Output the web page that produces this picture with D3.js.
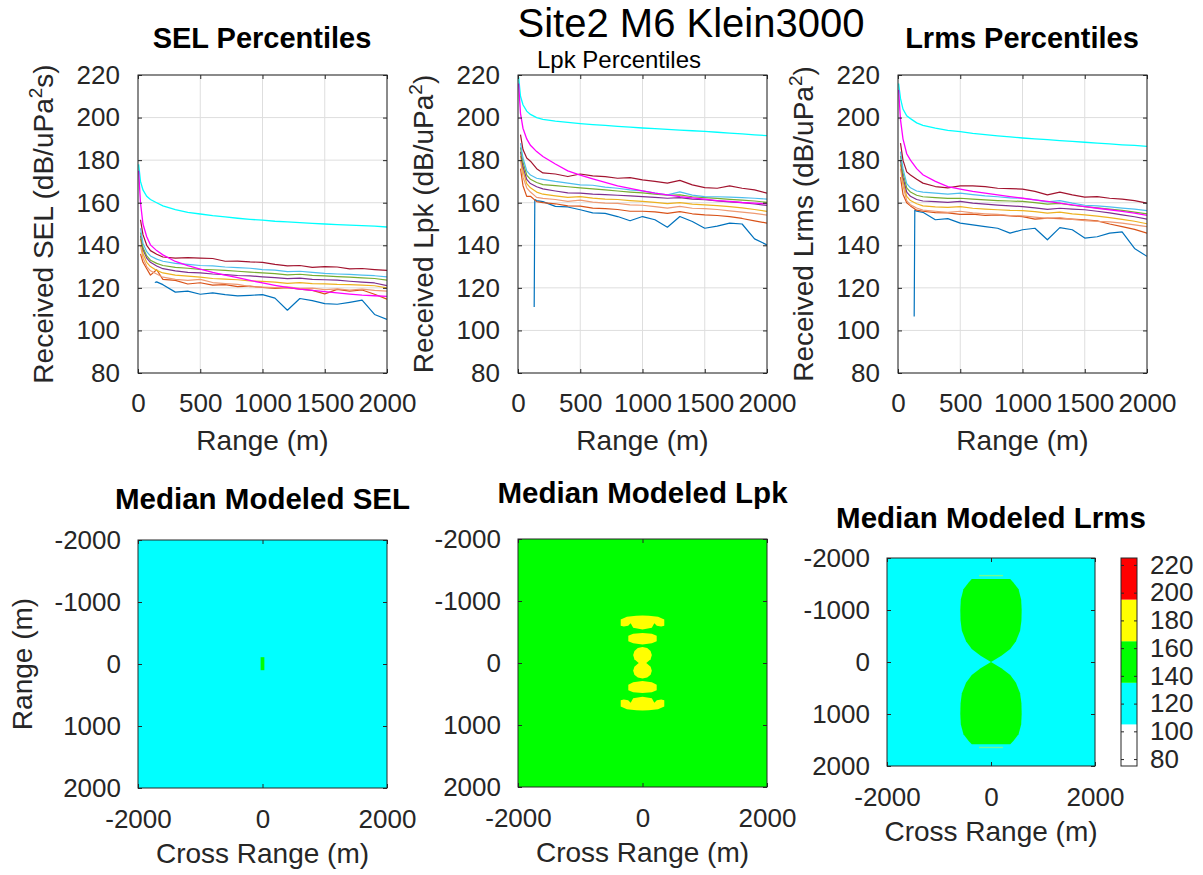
<!DOCTYPE html>
<html><head><meta charset="utf-8">
<script src="https://cdn.jsdelivr.net/npm/d3@7"></script>
<style>
body{margin:0;background:#fff;}
svg{display:block;font-family:"Liberation Sans",Arial,Helvetica,sans-serif;}
</style></head>
<body><svg id="c" width="1203" height="875"></svg>
<script>
// ---------------- DATA ----------------
const ranges = [5,20,40,70,100,130,135,150,200,300,400,500,600,700,800,900,1000,1100,1200,1300,1400,1500,1600,1700,1800,1900,2000];
const n = null;
const xTicksTop = [0,500,1000,1500,2000];
const yTicksTop = [80,100,120,140,160,180,200,220];
const mapTicksY = [-2000,-1000,0,1000,2000];
const mapTicksX = [-2000,0,2000];
const cbTicks = [80,100,120,140,160,180,200,220];
const cbEdges = [75,105,135,165,195,225];
const cbColors = ['#ffffff','#00ffff','#00ff00','#ffff00','#ff0000'];
const pctNames = ['blue','orange','salmon','yellow','purple','green','lightblue','darkred'];
const pctColors = ['#0072BD','#D95319','#EE9A72','#EDB120','#7E2F8E','#77AC30','#4DBEEE','#A2142F'];

// SEL percentiles
const selCyan    = [178,170,166,163,161.5,n,n,160,158.5,156.8,155.5,154.7,153.9,153.3,152.7,152.2,151.8,151.3,151,150.6,150.3,150,149.7,149.5,149.2,149,148.6];
const selMagenta = [175,160,150,144,140.2,n,n,137.5,135.5,132.4,130.4,128.8,127.3,126,124.8,123.5,122.3,121.2,120.2,119.4,118.8,118.2,117.6,117.1,116.6,116.3,116];
const selDarkRed = [n,152,145,140,137.5,n,n,135.8,134.5,134,134.2,134,133.8,132.5,132.6,132.2,132,131,130.3,130.5,129.6,130,129.8,128.9,129.1,128.6,128.2];
const selLightBlue=[n,148,141,137,135,n,n,133.5,132.5,131.5,131,130.5,130.3,129.8,129.5,129.2,128.6,128.3,127.6,127.8,127.3,126.8,126.5,126.3,126,125.7,125.2];
const selGreen   = [n,146,139,135,133,n,n,131.5,130.5,129.6,129.2,128.7,128.5,128.2,127.8,127.4,127,126.7,126.1,126.4,125.9,125.6,125.3,125,124.7,124.4,123.6];
const selPurple  = [n,144.5,138,134,132,n,n,130.3,129,128,127.3,127,126.5,126.2,125.8,125.6,125.2,124.8,124.3,124.6,124,123.8,123.6,123.1,122.7,122.3,121];
const selYellow  = [n,143,136,132,130,n,n,128.2,127,126,125.5,125,124.4,124.1,123.8,123.3,123,122.7,122.1,122.5,122,121.9,121.6,121.5,121.3,121,120];
const selSalmon  = [n,140,134,130,128,n,n,126.5,125,124,123.5,124,122.5,122,121.6,120.6,120.3,120.1,120.5,119.8,119.9,119.2,119.5,119,119.4,118.8,118.5];
const selOrange  = [n,136,132,129,126,n,n,128.5,124,123.5,121.8,122.4,121.3,121.5,120.6,120.8,120.2,119.8,120.1,119.4,118.8,117.2,119.3,118.5,119,117,114.7];
const selBlue    = [n,n,n,n,n,n,122.5,122.8,121.5,118,118.5,117,117.6,116.8,116.2,116.5,116.8,115.2,109.5,115,114,112.6,112.3,113.2,114.2,107.5,105.2];

// Lpk percentiles
const lpkCyan    = [219,210,206,203,201.5,n,n,200,199.2,198.3,197.7,197.2,196.7,196.3,195.9,195.5,195.1,194.8,194.5,194.1,193.8,193.5,193.1,192.7,192.3,191.9,191.5];
const lpkMagenta = [216,202,195,190,187,n,n,184,181.7,178.2,175,173,171.2,169.5,167.9,166.7,165.6,164.5,163.7,162.9,162.3,161.7,161,160.6,160.1,159.8,159.5];
const lpkDarkRed = [n,192,185,181,179.5,n,n,176,174,173.5,172.3,173.5,172.6,172.3,171.5,171.8,170.7,170,169.2,170.5,168.4,167.1,166.8,167.9,166.8,166,164.5];
const lpkLightBlue=[n,188,181,175,173,n,n,171.5,171,170,169.2,168.4,168.2,167.3,166.8,166,165.6,164.5,163.7,165.1,163.6,162.9,162.8,162.6,162.4,162.1,161.7];
const lpkGreen   = [n,186,179,173,171,n,n,169.5,168.5,168,167.5,167,166.5,166,165.5,165,164.6,164,163.5,163.7,162.8,162.4,162,161.6,161.2,160.8,160.2];
const lpkPurple  = [n,184,177,171,169,n,n,167.5,166.5,165.5,164.6,164.5,164,163.8,163.5,163.2,162.9,162.5,162.1,162.4,161.7,161.4,160.9,160.4,160,159.4,158.7];
const lpkYellow  = [n,182,175,169,167,n,n,165,164,163.2,162.5,162.9,162.2,161.7,161.5,161,160.6,160.2,159.6,160,159.3,159,158.6,158.2,157.6,156.8,155.9];
const lpkSalmon  = [n,180,172,167,165,n,n,162.5,162,161.5,160.6,161.2,160.3,159.8,159.7,159,158.8,158.2,157.5,158.3,157.4,157.2,156.8,156.2,155.6,155,154.2];
const lpkOrange  = [n,176,168,163,163,n,n,160.5,160,159.5,158.5,158.4,157.5,157.2,156.8,156,156,155.7,155,155.8,154.8,154.3,154,153.5,152.6,151.5,150.4];
const lpkBlue    = [n,n,n,n,n,111,161.5,161,160.5,158.3,158,156.7,155.2,155,153.5,151.5,153.5,152,148.5,153.5,151.2,148,149,150.4,150,143,140.2];

// Lrms percentiles
const lrmsCyan    = [216,209,204,200.8,199.5,n,n,197.5,196.3,195,194,193.4,192.6,192,191.4,190.9,190.4,190,189.6,189.2,188.8,188.4,188,187.6,187.2,186.9,186.5];
const lrmsMagenta = [213,199,190,183,180,n,n,176,173.1,170,167.6,166.4,165.3,164.5,163.7,162.9,162.1,161.3,160.6,159.8,159,158.2,157.4,156.7,155.9,155.1,154];
const lrmsDarkRed = [n,188,180,174.5,173,n,n,171,169.2,167.6,167,167.9,167.9,167.6,166.8,166.6,166.4,165.3,163.7,165,163.7,162.6,162.9,162.1,161.7,161,159.8];
const lrmsLightBlue=[n,184,176,169,167,n,n,165.5,165,164.5,164,164.5,163.8,163.2,162.8,162.3,162.1,161.3,160.4,161,159.8,158.8,158.5,158,157.5,157,156.3];
const lrmsGreen   = [n,182,174,167,165,n,n,163.5,162.8,162.4,162,162.1,161.7,161.3,161,160.8,160.6,160,159.3,159.7,158.8,158.2,157.6,157,156.4,155.6,154.8];
const lrmsPurple  = [n,180,172,165,163,n,n,161.5,160.8,160.5,160.2,160.6,159.8,159.3,158.9,158.5,158.2,157.6,156.9,157.4,157,156.7,156,155.2,154.3,153.4,152.3];
const lrmsYellow  = [n,178,170,163,161,n,n,159.5,158.5,158,157.8,158.2,157.4,157,156.7,156.4,156.3,155.8,155.1,155.6,154.8,154.3,153.7,153,152.2,151.3,150.1];
const lrmsSalmon  = [n,176,168,161,159,n,n,157.5,156.5,156,155.5,156,155.2,154.8,154.5,154,153.8,153.2,152.6,153,152.2,151.6,151.2,151,150.4,149.6,148.8];
const lrmsOrange  = [n,172,164,160,158.5,n,n,156.5,156,155.3,155.2,154.5,154.6,154,154.3,153.8,153.5,152.3,152.8,152.5,152.3,152,151.5,150,148.8,147.5,145.7];
const lrmsBlue    = [n,n,n,n,n,106.5,156.5,156,155.5,152,152.5,150.4,149.6,148.8,148,145.7,147.3,148,142.6,148.3,147.3,143.4,144,145.7,146.3,138.5,134.8];

// Modeled maps: background level and regions [crossRange, range] in m with level (dB)
const selMapBase = 125;
const selRegions = [
  {level:145, pts:[[-30,-110],[30,-110],[30,100],[-30,100]]}
];
const lpkMapBase = 150;
const lpkRegions = [
  {level:170, pts:[[-350,-700],[-250,-745],[-100,-763],[0,-765],[100,-763],[250,-745],[350,-700],[350,-600],[300,-588],[230,-600],[190,-640],[150,-570],[0,-540],[-150,-570],[-190,-640],[-230,-600],[-300,-588],[-350,-600]]},
  {level:170, pts:[[-228,-440],[-150,-472],[0,-485],[150,-472],[228,-440],[228,-350],[150,-318],[0,-300],[-150,-318],[-228,-350]]},
  {level:170, pts:[[0,-258],[75,-240],[130,-195],[150,-128],[130,-60],[80,-15],[60,0],[-60,0],[-80,-15],[-130,-60],[-150,-128],[-130,-195],[-75,-240]]},
  {level:170, pts:[[0,252],[75,235],[130,190],[150,126],[130,60],[80,15],[60,0],[-60,0],[-80,15],[-130,60],[-150,126],[-130,190],[-75,235]]},
  {level:170, pts:[[-228,350],[-150,310],[0,290],[150,310],[228,350],[228,440],[150,472],[0,483],[-150,472],[-228,440]]},
  {level:170, pts:[[-350,600],[-300,588],[-230,600],[-190,640],[-150,570],[0,545],[150,570],[190,640],[230,600],[300,588],[350,600],[350,700],[250,745],[100,763],[0,768],[-100,763],[-250,745],[-350,700]]}
];
const lrmsMapBase = 125;
const lrmsRegions = [
  {level:145, pts:[[-370,-1595],[370,-1595],[430,-1530],[530,-1400],[580,-1200],[590,-1000],[585,-800],[560,-600],[480,-400],[370,-250],[200,-120],[0,0],[-200,-120],[-370,-250],[-480,-400],[-560,-600],[-585,-800],[-590,-1000],[-580,-1200],[-530,-1400],[-430,-1530]]},
  {level:145, pts:[[-370,1580],[370,1580],[430,1520],[530,1390],[580,1200],[590,1000],[585,800],[560,600],[480,400],[370,250],[200,120],[0,0],[-200,120],[-370,250],[-480,400],[-560,600],[-585,800],[-590,1000],[-580,1200],[-530,1390],[-430,1520]]},
  {level:145, pts:[[-230,-1675],[230,-1675],[230,-1648],[-230,-1648]], light:true},
  {level:145, pts:[[-230,1630],[230,1630],[230,1657],[-230,1657]], light:true}
];

// ---------------- DRAW ----------------
const svg = d3.select('#c');
const AX = '#262626', GRID = '#dedede';
const color = d3.scaleThreshold().domain(cbEdges.slice(1,-1)).range(cbColors);
const fmt = d => String(d);

function styleAxis(sel, fs, showText){
  sel.select('.domain').remove();
  sel.selectAll('.tick line').attr('stroke', AX).attr('stroke-width', 1);
  sel.selectAll('.tick text').attr('fill', AX).style('font-size', fs+'px')
     .style('font-family','"Liberation Sans",Arial,sans-serif');
  if(!showText) sel.selectAll('.tick text').remove();
}

function text(x, y, str, opt){
  const t = svg.append('text').attr('x', x).attr('y', y).attr('text-anchor', opt.anchor||'middle')
    .attr('fill', opt.fill||'#000').style('font-size', opt.size+'px')
    .style('font-weight', opt.bold?'bold':'normal').text(str);
  return t;
}

function yLabel(x, yc, parts, size){
  const t = svg.append('text').attr('transform', `translate(${x},${yc}) rotate(-90)`)
    .attr('text-anchor','middle').attr('fill', AX).style('font-size', size+'px');
  t.append('tspan').text(parts[0]);
  if(parts.length > 1){
    t.append('tspan').attr('dy', -11).style('font-size', Math.round(size*0.68)+'px').text(parts[1]);
    t.append('tspan').attr('dy', 11).text(parts[2]);
  }
}

const topPanels = [
  {x0:138, x1:387, ylab:['Received SEL (dB/uPa','2','s)'],
   pct:[selBlue,selOrange,selSalmon,selYellow,selPurple,selGreen,selLightBlue,selDarkRed], cyan:selCyan, magenta:selMagenta},
  {x0:518, x1:767, ylab:['Received Lpk (dB/uPa','2',')'],
   pct:[lpkBlue,lpkOrange,lpkSalmon,lpkYellow,lpkPurple,lpkGreen,lpkLightBlue,lpkDarkRed], cyan:lpkCyan, magenta:lpkMagenta},
  {x0:898, x1:1147, ylab:['Received Lrms (dB/uPa','2',')'],
   pct:[lrmsBlue,lrmsOrange,lrmsSalmon,lrmsYellow,lrmsPurple,lrmsGreen,lrmsLightBlue,lrmsDarkRed], cyan:lrmsCyan, magenta:lrmsMagenta}
];
const TOP0 = 75, TOP1 = 373;

topPanels.forEach((p, pi) => {
  const x = d3.scaleLinear().domain([0,2000]).range([p.x0, p.x1]);
  const y = d3.scaleLinear().domain([80,220]).range([TOP1, TOP0]);
  const g = svg.append('g');
  g.selectAll('.gx').data(xTicksTop).join('line')
    .attr('x1', d=>x(d)).attr('x2', d=>x(d)).attr('y1', TOP0).attr('y2', TOP1)
    .attr('stroke', GRID).attr('stroke-width', 1);
  g.selectAll('.gy').data(yTicksTop).join('line')
    .attr('x1', p.x0).attr('x2', p.x1).attr('y1', d=>y(d)).attr('y2', d=>y(d))
    .attr('stroke', GRID).attr('stroke-width', 1);
  const cid = 'clipTop'+pi;
  svg.append('clipPath').attr('id', cid).append('rect')
    .attr('x', p.x0).attr('y', TOP0).attr('width', p.x1-p.x0).attr('height', TOP1-TOP0);
  const lg = g.append('g').attr('clip-path', `url(#${cid})`);
  const line = d3.line().x(d=>x(d[0])).y(d=>y(d[1]));
  const toPts = vals => ranges.map((r,i)=>[r, vals[i]]).filter(d=>d[1] != null);
  p.pct.forEach((vals, k) => {
    lg.append('path').attr('d', line(toPts(vals))).attr('fill','none')
      .attr('stroke', pctColors[k]).attr('stroke-width', 1.2).attr('stroke-linejoin','round');
  });
  lg.append('path').attr('d', line(toPts(p.cyan))).attr('fill','none').attr('stroke','#00ffff').attr('stroke-width',1.3);
  lg.append('path').attr('d', line(toPts(p.magenta))).attr('fill','none').attr('stroke','#ff00ff').attr('stroke-width',1.3);
  g.append('rect').attr('x', p.x0).attr('y', TOP0).attr('width', p.x1-p.x0).attr('height', TOP1-TOP0)
    .attr('fill','none').attr('stroke', AX).attr('stroke-width', 1);
  styleAxis(g.append('g').attr('transform',`translate(0,${TOP1})`)
    .call(d3.axisBottom(x).tickValues(xTicksTop).tickFormat(fmt).tickSize(-4).tickSizeOuter(0).tickPadding(21)), 26, true);
  styleAxis(g.append('g').attr('transform',`translate(0,${TOP0})`)
    .call(d3.axisTop(x).tickValues(xTicksTop).tickSize(-4).tickSizeOuter(0)), 26, false);
  styleAxis(g.append('g').attr('transform',`translate(${p.x0},0)`)
    .call(d3.axisLeft(y).tickValues(yTicksTop).tickFormat(fmt).tickSize(-4).tickSizeOuter(0).tickPadding(18)), 26, true);
  styleAxis(g.append('g').attr('transform',`translate(${p.x1},0)`)
    .call(d3.axisRight(y).tickValues(yTicksTop).tickSize(-4).tickSizeOuter(0)), 26, false);
  text((p.x0+p.x1)/2, 450, 'Range (m)', {size:28, fill:AX});
  yLabel(p.x0-85, (TOP0+TOP1)/2, p.ylab, 28);
});

// titles
text(691, 37, 'Site2 M6 Klein3000', {size:40});
text(262, 48, 'SEL Percentiles', {size:29, bold:true});
text(619, 68, 'Lpk Percentiles', {size:24});
text(1022, 48, 'Lrms Percentiles', {size:29, bold:true});

// maps
const mapPanels = [
  {x0:138, x1:387, y0:540, y1:788, base:selMapBase, regions:selRegions, title:'Median Modeled SEL', ty:509, ylab:true},
  {x0:518, x1:767, y0:539, y1:787, base:lpkMapBase, regions:lpkRegions, title:'Median Modeled Lpk', ty:503},
  {x0:887, x1:1095, y0:558, y1:766, base:lrmsMapBase, regions:lrmsRegions, title:'Median Modeled Lrms', ty:528}
];
mapPanels.forEach(p => {
  const x = d3.scaleLinear().domain([-2000,2000]).range([p.x0, p.x1]);
  const y = d3.scaleLinear().domain([-2000,2000]).range([p.y0, p.y1]);
  const g = svg.append('g');
  g.append('rect').attr('x', x(-2000)).attr('y', y(-2000)).attr('width', x(2000)-x(-2000))
    .attr('height', y(2000)-y(-2000)).attr('fill', color(p.base));
  const line = d3.line().x(d=>x(d[0])).y(d=>y(d[1]));
  p.regions.forEach(r => {
    g.append('path').attr('d', line(r.pts)+'Z').attr('fill', r.light ? '#6dff8f' : color(r.level))
      .attr('stroke', 'none');
  });
  g.append('rect').attr('x', p.x0).attr('y', p.y0).attr('width', p.x1-p.x0).attr('height', p.y1-p.y0)
    .attr('fill','none').attr('stroke', AX).attr('stroke-width', 1);
  styleAxis(g.append('g').attr('transform',`translate(0,${p.y1})`)
    .call(d3.axisBottom(x).tickValues(mapTicksX).tickFormat(fmt).tickSize(-4).tickSizeOuter(0).tickPadding(22)), 26, true);
  styleAxis(g.append('g').attr('transform',`translate(0,${p.y0})`)
    .call(d3.axisTop(x).tickValues(mapTicksX).tickSize(-4).tickSizeOuter(0)), 26, false);
  styleAxis(g.append('g').attr('transform',`translate(${p.x0},0)`)
    .call(d3.axisLeft(y).tickValues(mapTicksY).tickFormat(fmt).tickSize(-4).tickSizeOuter(0).tickPadding(17)), 26, true);
  styleAxis(g.append('g').attr('transform',`translate(${p.x1},0)`)
    .call(d3.axisRight(y).tickValues(mapTicksY).tickSize(-4).tickSizeOuter(0)), 26, false);
  text((p.x0+p.x1)/2, p.y1+75, 'Cross Range (m)', {size:28, fill:AX});
  text((p.x0+p.x1)/2, p.ty, p.title, {size:29.5, bold:true});
  if(p.ylab) yLabel(32, (p.y0+p.y1)/2, ['Range (m)'], 28);
});

// colorbar
const cbx0 = 1121, cbx1 = 1137;
const cy = d3.scaleLinear().domain([75,225]).range([766,558]);
const cg = svg.append('g');
cbColors.forEach((c, i) => {
  cg.append('rect').attr('x', cbx0).attr('y', cy(cbEdges[i+1])).attr('width', cbx1-cbx0)
    .attr('height', cy(cbEdges[i]) - cy(cbEdges[i+1])).attr('fill', c);
});
cg.append('rect').attr('x', cbx0).attr('y', cy(225)).attr('width', cbx1-cbx0).attr('height', cy(75)-cy(225))
  .attr('fill','none').attr('stroke', AX).attr('stroke-width', 1);
styleAxis(cg.append('g').attr('transform',`translate(${cbx1},0)`)
  .call(d3.axisRight(cy).tickValues(cbTicks).tickFormat(fmt).tickSize(-3).tickSizeOuter(0).tickPadding(13)), 26, true);
styleAxis(cg.append('g').attr('transform',`translate(${cbx0},0)`)
  .call(d3.axisLeft(cy).tickValues(cbTicks).tickSize(-3).tickSizeOuter(0)), 26, false);
</script>
</body></html>
